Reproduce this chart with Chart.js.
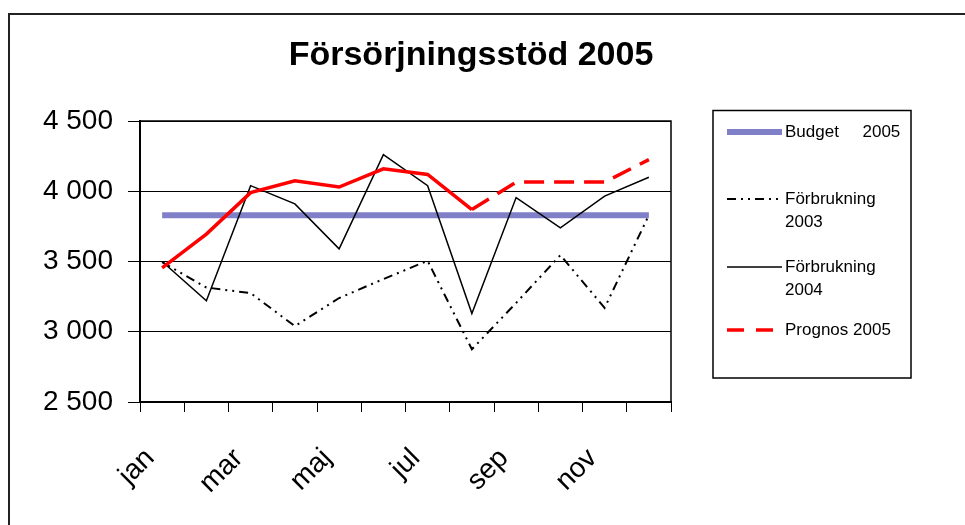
<!DOCTYPE html>
<html>
<head>
<meta charset="utf-8">
<script src="https://cdn.jsdelivr.net/npm/chart.js@4"></script>
<style>
  html, body { margin: 0; padding: 0; background: #fff; }
  #wrap { width: 965px; height: 525px; position: relative; }
</style>
</head>
<body>
<div id="wrap"><canvas id="chart"></canvas></div>
<script>
// =============================================
// Data
// =============================================
const months = ['jan', 'feb', 'mar', 'apr', 'maj', 'jun', 'jul', 'aug', 'sep', 'okt', 'nov', 'dec'];
const budget2005 = [3830, 3830, 3830, 3830, 3830, 3830, 3830, 3830, 3830, 3830, 3830, 3830];
const forbrukning2003 = [3495, 3315, 3275, 3040, 3240, 3375, 3505, 2875, 3205, 3545, 3170, 3830];
const forbrukning2004 = [3500, 3220, 4040, 3910, 3590, 4260, 4040, 3130, 3955, 3740, 3965, 4100];
const prognos2005 = [3455, 3695, 3990, 4075, 4030, 4160, 4120, 3870, 4065, 4065, 4065, 4225];
const yTicks = [2500, 3000, 3500, 4000, 4500];

const FONT = "Arial, 'Liberation Sans', sans-serif";
const PROGNOS_SOLID_UNTIL = 7; // index of aug, dashed after

const legendItems = [
  { lines: ['Budget     2005'], color: '#8080C8', width: 6, dash: [], y: 132 },
  { lines: ['Förbrukning', '2003'], color: '#000', width: 2, dash: [9, 5, 2, 5, 2, 5], y: 199 },
  { lines: ['Förbrukning', '2004'], color: '#000', width: 1.5, dash: [], y: 267 },
  { lines: ['Prognos 2005'], color: '#FF0000', width: 3.5, dash: [17, 12], y: 330 },
];

// frame, title, plot border and legend
const decorPlugin = {
  id: 'decor',
  beforeDatasetsDraw(chart) {
    const { ctx, chartArea: a } = chart;
    ctx.save();
    ctx.strokeStyle = '#000';
    ctx.lineWidth = 1.5;
    ctx.beginPath();
    ctx.moveTo(a.left, a.top);
    ctx.lineTo(a.right, a.top);
    ctx.lineTo(a.right, a.bottom);
    ctx.stroke();
    ctx.restore();
  },
  afterDraw(chart) {
    const { ctx } = chart;
    ctx.save();
    // outer frame (left and top edges only visible)
    ctx.strokeStyle = '#222';
    ctx.lineWidth = 2;
    ctx.beginPath();
    ctx.moveTo(9, 530);
    ctx.lineTo(9, 14);
    ctx.lineTo(970, 14);
    ctx.stroke();

    // title
    ctx.fillStyle = '#000';
    ctx.font = 'bold 34px ' + FONT;
    ctx.textAlign = 'center';
    ctx.textBaseline = 'alphabetic';
    ctx.fillText('Försörjningsstöd 2005', 471, 65);

    // legend box
    ctx.lineWidth = 1.5;
    ctx.strokeStyle = '#000';
    ctx.strokeRect(713, 110.5, 198, 267.5);
    ctx.font = '17px ' + FONT;
    ctx.textAlign = 'left';
    ctx.textBaseline = 'middle';
    legendItems.forEach(item => {
      ctx.beginPath();
      ctx.setLineDash(item.dash);
      ctx.strokeStyle = item.color;
      ctx.lineWidth = item.width;
      ctx.moveTo(727, item.y);
      ctx.lineTo(782, item.y);
      ctx.stroke();
      ctx.setLineDash([]);
      item.lines.forEach((t, i) => ctx.fillText(t, 785, item.y + i * 23));
    });
    ctx.restore();
  },
};

const ctx = document.getElementById('chart').getContext('2d');

new Chart(ctx, {
  type: 'line',
  data: {
    labels: months,
    datasets: [
      {
        label: 'Budget 2005',
        data: budget2005,
        borderColor: '#8080C8',
        borderWidth: 6,
        order: 4,
      },
      {
        label: 'Förbrukning 2003',
        data: forbrukning2003,
        borderColor: '#000',
        borderWidth: 2,
        borderDash: [9, 5, 2, 5, 2, 5],
        order: 3,
      },
      {
        label: 'Förbrukning 2004',
        data: forbrukning2004,
        borderColor: '#000',
        borderWidth: 1.5,
        order: 2,
      },
      {
        label: 'Prognos 2005',
        data: prognos2005,
        borderColor: '#FF0000',
        borderWidth: 3.5,
        order: 1,
        segment: {
          borderDash: c => (c.p0DataIndex >= PROGNOS_SOLID_UNTIL ? [20, 10] : []),
        },
      },
    ],
  },
  options: {
    responsive: true,
    maintainAspectRatio: false,
    animation: false,
    layout: {
      padding: { top: 121, left: 10, right: 294, bottom: 8 },
    },
    elements: {
      point: { radius: 0, hoverRadius: 0 },
      line: { tension: 0, borderCapStyle: 'butt' },
    },
    plugins: {
      legend: { display: false },
      title: { display: false },
      tooltip: { enabled: false },
    },
    scales: {
      x: {
        offset: true,
        afterFit: s => { s.height = 115; },
        grid: {
          offset: true,
          drawOnChartArea: false,
          drawTicks: true,
          tickLength: 10,
          color: '#000',
          lineWidth: 1,
        },
        border: { display: true, color: '#000', width: 2 },
        ticks: {
          autoSkip: false,
          maxRotation: 45,
          minRotation: 45,
          padding: 30,
          labelOffset: -12,
          color: '#000',
          font: { family: FONT, size: 28 },
          callback: (v, i) => (i % 2 === 0 ? months[i] : ''),
        },
      },
      y: {
        min: yTicks[0],
        max: yTicks[yTicks.length - 1],
        afterFit: s => { s.width = 130; },
        afterBuildTicks: s => { s.ticks = yTicks.map(v => ({ value: v })); },
        grid: {
          color: '#000',
          lineWidth: 1,
          tickLength: 12,
        },
        border: { display: true, color: '#000', width: 2 },
        ticks: {
          padding: 15,
          color: '#000',
          font: { family: FONT, size: 28 },
          callback: v => String(v).replace(/\B(?=(\d{3})+(?!\d))/g, ' '),
        },
      },
    },
  },
  plugins: [decorPlugin],
});
</script>
</body>
</html>
